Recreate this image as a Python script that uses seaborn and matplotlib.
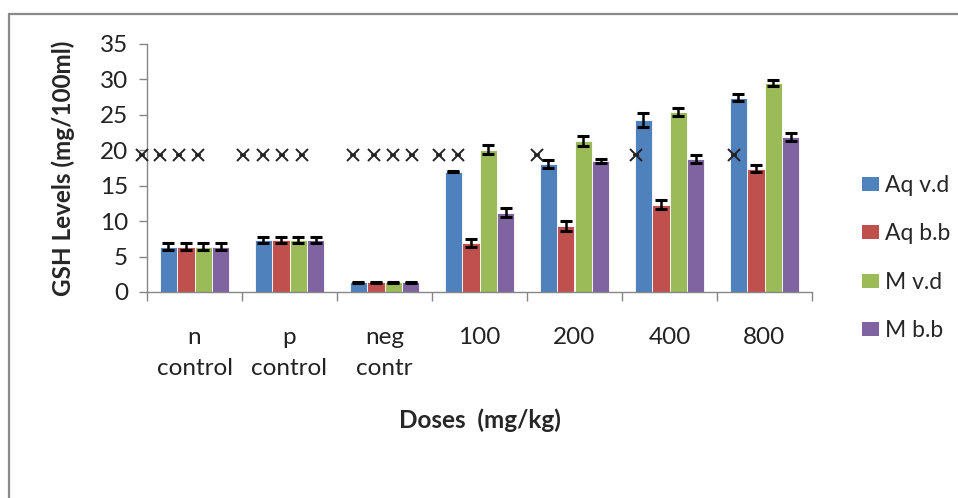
import numpy as np
import pandas as pd
import matplotlib
matplotlib.use("Agg")
import matplotlib.pyplot as plt
from matplotlib.lines import Line2D
from matplotlib.patches import Patch
import seaborn as sns

# values
doses = ["n\ncontrol", "p\ncontrol", "neg\ncontr", "100", "200", "400", "800"]
groups = ["Aq v.d", "Aq b.b", "M v.d", "M b.b"]
colors = ["#4F81BD", "#C0504D", "#9BBB59", "#8064A2"]

aq_vd = [6.4, 7.35, 1.4, 17.0, 18.1, 24.3, 27.4]
aq_bb = [6.4, 7.35, 1.4, 6.9, 9.3, 12.3, 17.4]
m_vd = [6.4, 7.35, 1.4, 20.1, 21.3, 25.4, 29.5]
m_bb = [6.4, 7.35, 1.4, 11.2, 18.5, 18.8, 21.9]

aq_vd_err = [0.45, 0.45, 0.08, 0.08, 0.55, 0.95, 0.5]
aq_bb_err = [0.45, 0.45, 0.08, 0.6, 0.65, 0.65, 0.5]
m_vd_err = [0.45, 0.45, 0.08, 0.65, 0.65, 0.5, 0.38]
m_bb_err = [0.45, 0.45, 0.08, 0.6, 0.3, 0.55, 0.6]

# significance marks (x in category units, y level)
mark_x = [-0.55, -0.36, -0.16, 0.04, 0.51, 0.72, 0.92, 1.13,
          1.67, 1.89, 2.09, 2.29, 2.57, 2.77, 3.61, 4.65, 5.68]
mark_y = 19.3

sns.set_theme(style="white")
plt.rcParams["font.family"] = ["Lato", "DejaVu Sans"]

rows = []
for g, vals, errs in zip(groups, [aq_vd, aq_bb, m_vd, m_bb],
                         [aq_vd_err, aq_bb_err, m_vd_err, m_bb_err]):
    for d, v, e in zip(doses, vals, errs):
        rows.append({"dose": d, "group": g, "value": v, "err": e})
df = pd.DataFrame(rows)

fig = plt.figure(figsize=(9.58, 4.98), dpi=100)
ax = fig.add_axes([147 / 958, 1 - 292 / 498, 665 / 958, 248 / 498])

sns.barplot(data=df, x="dose", y="value", hue="group", order=doses,
            hue_order=groups, palette=colors, saturation=1, width=0.73,
            errorbar=None, edgecolor="white", linewidth=0.6, legend=False,
            ax=ax)

# error bars on each bar centre (patches sorted by x = dose then group)
bars = sorted(ax.patches, key=lambda p: p.get_x())
df_sorted = df.assign(d_i=df["dose"].map(doses.index),
                      g_i=df["group"].map(groups.index)).sort_values(["d_i", "g_i"])
xc = [p.get_x() + p.get_width() / 2 for p in bars]
ax.errorbar(xc, df_sorted["value"], yerr=df_sorted["err"], fmt="none",
            ecolor="black", elinewidth=1.8, capsize=4.2, capthick=2.2, zorder=5)

# significance marks
ax.plot(mark_x, [mark_y] * len(mark_x), ls="none", marker="x", ms=8,
        mew=1.4, color="#222222", clip_on=False, zorder=6)
ax.plot(mark_x, [mark_y] * len(mark_x), ls="none", marker="_", ms=5,
        mew=1.3, color="#222222", clip_on=False, zorder=6)

ax.set_xlim(-0.5, 6.5)
ax.set_ylim(0, 35)
ax.set_yticks(range(0, 36, 5))
ax.set_xticks(range(len(doses)))
ax.set_xticklabels(doses, linespacing=1.6)
ax.set_xticks(np.arange(-0.5, 7, 1), minor=True)
ax.tick_params(axis="x", which="major", length=0, pad=25, labelsize=17.5,
               labelcolor="#222222")
ax.tick_params(axis="x", which="minor", length=6.5, width=1, color="#868686",
               direction="out", bottom=True)
ax.tick_params(axis="y", length=5.5, width=1, color="#868686", direction="out",
               left=True, pad=8, labelsize=17.5, labelcolor="#222222")

for s in ["top", "right"]:
    ax.spines[s].set_visible(False)
for s in ["left", "bottom"]:
    ax.spines[s].set_color("#868686")
    ax.spines[s].set_linewidth(1.0)

ax.set_xlabel("Doses  (mg/kg)", fontsize=17.5, fontweight="bold")
ax.set_ylabel("GSH Levels (mg/100ml)", fontsize=17.5, fontweight="bold")
ax.xaxis.set_label_coords(0.5, -0.47)
ax.yaxis.set_label_coords(-0.108, 0.5)

handles = [Patch(facecolor=c, edgecolor="none") for c in colors]
fig.legend(handles, groups, loc="center left",
           bbox_to_anchor=(851 / 958, 1 - 258 / 498), frameon=False,
           fontsize=16.5, handlelength=0.7, handleheight=0.55,
           handletextpad=0.3, labelspacing=1.2, borderpad=0)

# outer frame (top and left edges visible)
fy = 1 - 14 / 498
fx = 9 / 958
fig.add_artist(Line2D([fx, 1], [fy, fy], color="#898989", lw=1.6))
fig.add_artist(Line2D([fx, fx], [0, fy], color="#898989", lw=1.6))

fig.savefig("out.png", dpi=100)
